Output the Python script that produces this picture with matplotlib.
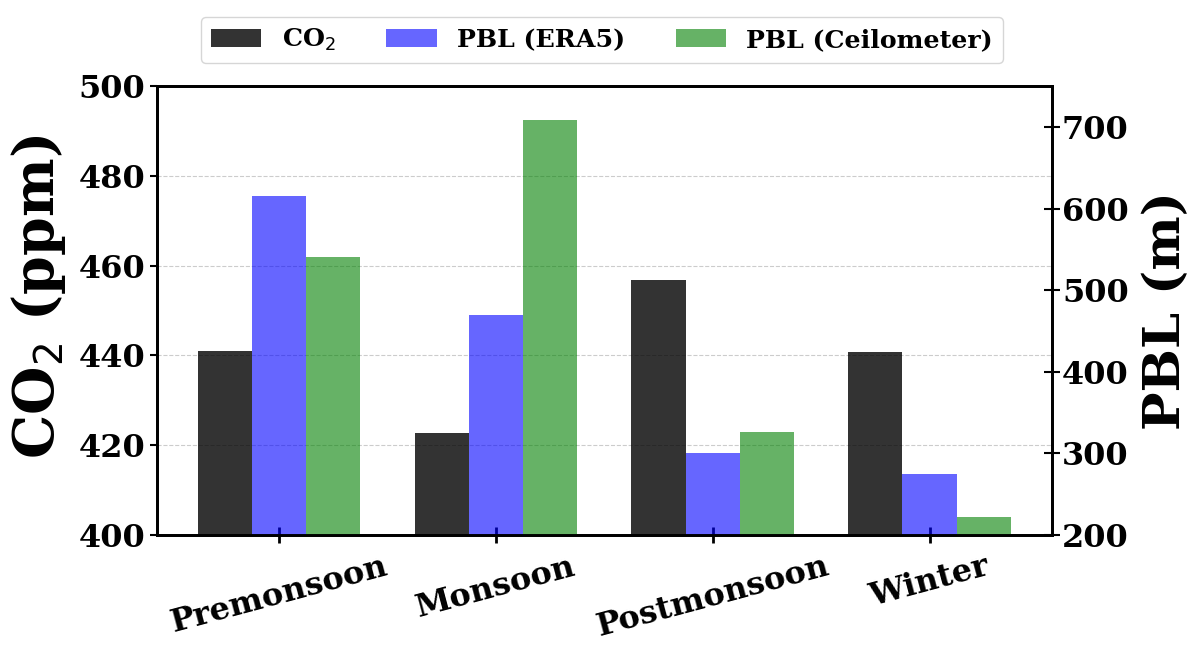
import matplotlib
matplotlib.use("Agg")
import matplotlib.pyplot as plt
import numpy as np

seasons = ['Premonsoon', 'Monsoon', 'Postmonsoon', 'Winter']
co2 = [440.9, 422.8, 456.7, 440.8]           # ppm
pbl_era5 = [615, 470, 301, 275]              # m
pbl_ceil = [541, 708, 326, 222]              # m

plt.rcParams['font.family'] = 'DejaVu Serif'

fig = plt.figure(figsize=(11.99, 6.45), dpi=100)
ax1 = fig.add_axes([0.131, 0.1705, 0.746, 0.696])
ax2 = ax1.twinx()

x = np.arange(len(seasons))
w = 0.25

b1 = ax1.bar(x - w, co2, w, color='black', alpha=0.8, label='CO$_2$')
b2 = ax2.bar(x, pbl_era5, w, color='blue', alpha=0.6, label='PBL (ERA5)')
b3 = ax2.bar(x + w, pbl_ceil, w, color='green', alpha=0.6, label='PBL (Ceilometer)')

ax1.set_ylim(400, 500)
ax2.set_ylim(200, 750)
ax1.set_yticks([400, 420, 440, 460, 480, 500])
ax2.set_yticks([200, 300, 400, 500, 600, 700])

ax1.set_xticks(x)
ax1.set_xticklabels(seasons, rotation=15, fontsize=23, fontweight='bold')
ax1.tick_params(axis='x', direction='inout', length=11, width=2, pad=6)
ax1.tick_params(axis='y', labelsize=23, direction='out', length=5, width=1.5)
ax2.tick_params(axis='y', labelsize=23, direction='inout', length=11, width=1.5, pad=2)
for lbl in ax1.get_yticklabels() + ax2.get_yticklabels():
    lbl.set_fontweight('bold')

ax1.set_ylabel('CO$_2$ (ppm)', fontsize=40, fontweight='bold', labelpad=5)
ax1.yaxis.set_label_coords(-0.1, 0.53)
ax2.set_ylabel('PBL (m)', fontsize=37, fontweight='bold', labelpad=10)

ax1.grid(axis='y', linestyle='--', color='gray', alpha=0.4)
ax1.set_axisbelow(True)

for ax in (ax1, ax2):
    for s in ax.spines.values():
        s.set_linewidth(2)

fig.legend([b1, b2, b3], ['CO$_2$', 'PBL (ERA5)', 'PBL (Ceilometer)'],
           loc='upper center', bbox_to_anchor=(0.502, 0.974), borderaxespad=0,
           ncol=3, prop={'weight': 'bold', 'size': 18.2})

fig.savefig('out.png', dpi=100)
